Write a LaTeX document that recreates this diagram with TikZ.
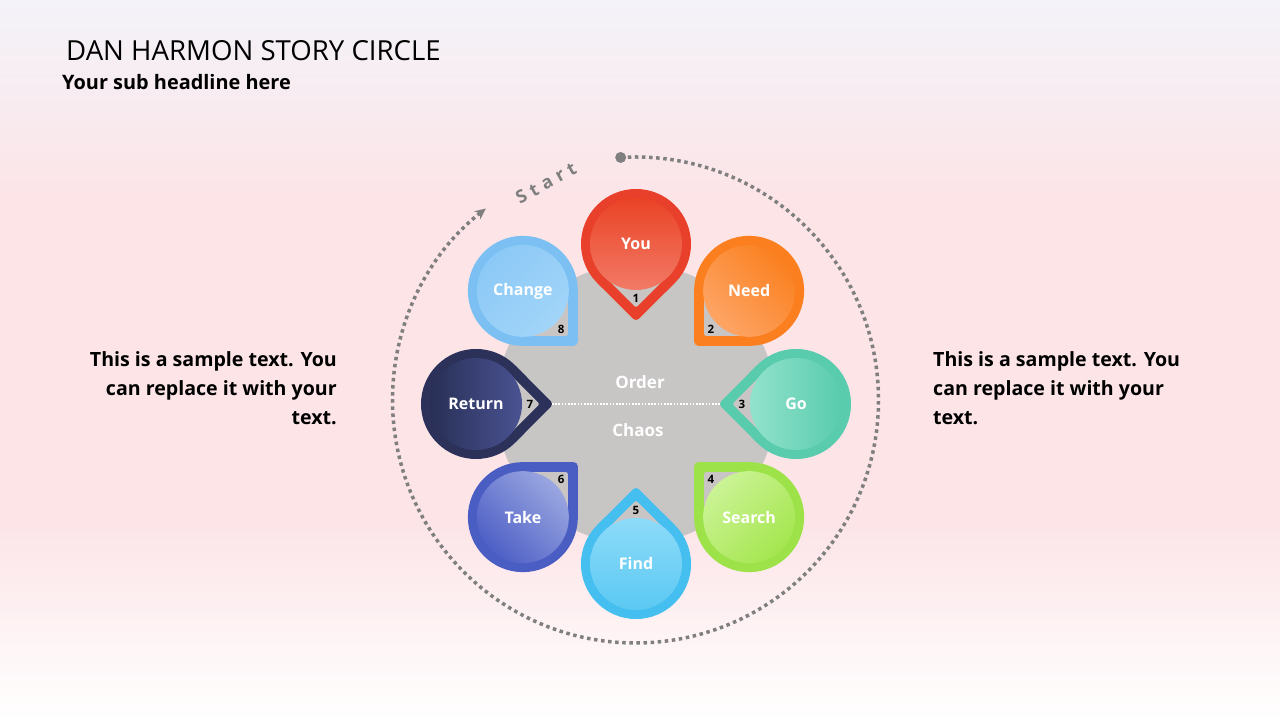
\documentclass[tikz,border=0pt]{standalone}
\usepackage{fontspec}
\setmainfont{Open Sans}
\newfontfamily\spacedfont[LetterSpace=30]{Open Sans}
\usetikzlibrary{calc,arrows.meta}
\definecolor{bgtop}{HTML}{F3F3F9}
\definecolor{bgpink}{HTML}{FCE4E7}
\definecolor{bgbot}{HTML}{FFFFFF}
\definecolor{diskgray}{HTML}{C8C5C5}
\definecolor{tipgray}{HTML}{C9C5C5}
\definecolor{dotgray}{HTML}{7F7F7F}
\definecolor{youF}{HTML}{E8402A}\definecolor{youD}{HTML}{EA4326}\definecolor{youL}{HTML}{F27A66}
\definecolor{needF}{HTML}{FB7E1F}\definecolor{needD}{HTML}{FB801F}\definecolor{needL}{HTML}{FDA566}
\definecolor{goF}{HTML}{5ACCAE}\definecolor{goD}{HTML}{58CBAD}\definecolor{goL}{HTML}{92E2CC}
\definecolor{srchF}{HTML}{9EE24A}\definecolor{srchD}{HTML}{A5E64F}\definecolor{srchL}{HTML}{CBF395}
\definecolor{findF}{HTML}{45BEF0}\definecolor{findD}{HTML}{5BC9F3}\definecolor{findL}{HTML}{8DDBF8}
\definecolor{takeF}{HTML}{4A5DC3}\definecolor{takeD}{HTML}{4E60C6}\definecolor{takeL}{HTML}{9AA6E0}
\definecolor{retF}{HTML}{2B3158}\definecolor{retD}{HTML}{283056}\definecolor{retL}{HTML}{4A5292}
\definecolor{chgF}{HTML}{7CC0F3}\definecolor{chgD}{HTML}{8CC9F6}\definecolor{chgL}{HTML}{A2D5F9}
\begin{document}
\begin{tikzpicture}[x=1pt,y=1pt,
  lbl/.style={text=white,font=\bfseries\fontsize{16}{19}\selectfont,inner sep=0pt},
  numlbl/.style={text=black,font=\bfseries\fontsize{11.5}{13}\selectfont,inner sep=0pt},
  midlbl/.style={text=white,font=\bfseries\fontsize{17}{20}\selectfont,inner sep=0pt},
  bodytxt/.style={text=black,font=\bfseries\fontsize{19.6}{29}\selectfont,inner sep=0pt},
  dotline/.style={draw=dotgray,line width=3.5pt,dash pattern=on 3.5pt off 3.6pt},
  sample/.style={white,line width=1.6pt,dash pattern=on 1.6pt off 1.6pt}]
\useasboundingbox (0,0) rectangle (1280,720);
% background
\shade[top color=bgtop,bottom color=bgpink] (0,520) rectangle (1280,720);
\fill[bgpink] (0,199.5) rectangle (1280,520.5);
\shade[top color=bgpink,bottom color=bgbot] (0,0) rectangle (1280,200);
% titles
\node[anchor=base west,inner sep=0pt,font=\fontsize{27.6}{33}\selectfont] (title) at (66,659) {DAN HARMON STORY CIRCLE};
\node[anchor=base west,inner sep=0pt,font=\bfseries\fontsize{19.9}{24}\selectfont] (sub) at (62,630) {Your sub headline here};
% side texts
\node[bodytxt,anchor=north east,align=right] (ltxt) at (337,369) {This is a sample text. You\\can replace it with your\\text.};
\node[bodytxt,anchor=north west,align=left] (rtxt) at (933,369) {This is a sample text. You\\can replace it with your\\text.};
% centers
\coordinate (C) at (636,316);
\coordinate (D) at (635.5,320);
% outer dotted circle with start
\node[circle,fill=dotgray,minimum size=11pt,inner sep=0pt] (sdot) at ($(D)+(93.5:243)$) {};
\draw[dotline,-{Stealth[length=11pt,width=10pt]}] (sdot.center) arc[start angle=93.5,end angle=-232,radius=243] coordinate (aend);
\node[text=dotgray,font=\spacedfont\bfseries\fontsize{18}{22}\selectfont,rotate=29,inner sep=0pt] (start) at (546,537) {Start};
% inner disk
\fill[diskgray] (C) circle[radius=140];
% petals
\foreach \a/\lab/\n/\fr/\dk/\lt in {90/You/1/youF/youD/youL,45/Need/2/needF/needD/needL,0/Go/3/goF/goD/goL,-45/Search/4/srchF/srchD/srchL,-90/Find/5/findF/findD/findL,-135/Take/6/takeF/takeD/takeL,180/Return/7/retF/retD/retL,135/Change/8/chgF/chgD/chgL}{
  \pgfmathsetmacro\sa{\a-90}
  \begin{scope}[shift={($(C)+(\a:160)$)},rotate=\a]
    \filldraw[fill=\fr,draw=\fr,line width=8pt,line join=round] (-72,0) -- (225:51) arc[start angle=225,end angle=495,radius=51] -- cycle;
    \filldraw[fill=tipgray,draw=tipgray,line width=4pt,line join=round] (-60.8,0) -- (225:43) arc[start angle=225,end angle=495,radius=43] -- cycle;
  \end{scope}
  \shade[top color=\dk,bottom color=\lt,shading angle=\sa] ($(C)+(\a:160)$) circle[radius=46];
  \node[lbl] (p\n) at ($(C)+(\a:160)$) {\lab};
  \node[numlbl] (n\n) at ($(C)+(\a:106)$) {\n};
  \coordinate (t\n) at ($(C)+(\a:84)$);
}
% order / chaos
\draw[sample] (t7) -- (t3);
\node[midlbl] (order) at (640,338) {Order};
\node[midlbl] (chaos) at (638,290) {Chaos};
\end{tikzpicture}
\end{document}
